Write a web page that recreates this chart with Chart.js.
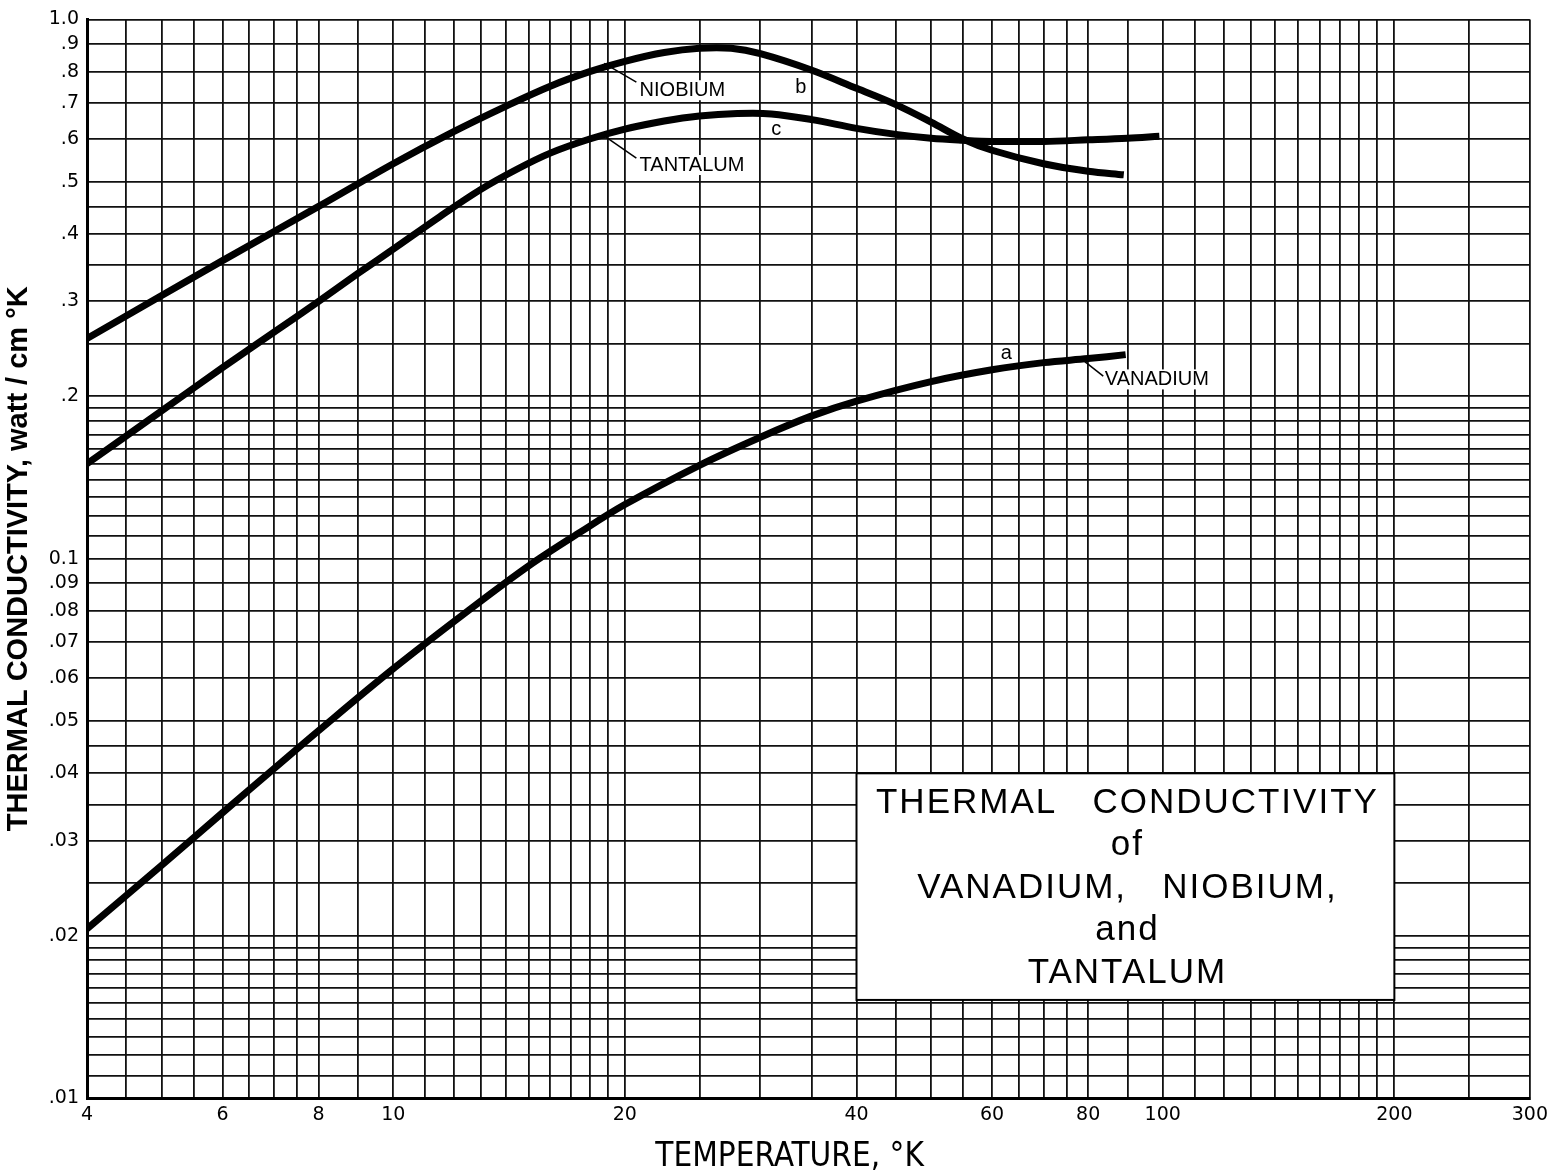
<!DOCTYPE html>
<html>
<head>
<meta charset="utf-8">
<script src="https://cdn.jsdelivr.net/npm/chart.js@4.4.1/dist/chart.umd.min.js"></script>
<style>
  html, body { margin: 0; padding: 0; background: #fff; }
  canvas { display: block; }
</style>
</head>
<body>
<canvas id="chart" width="1554" height="1174"></canvas>
<script>
// temperatures (°K) and conductivities (watt / cm °K)
const vanadiumT = [4, 5, 6, 7, 8, 10, 12.5, 15, 17.5, 20, 25, 30, 35, 40, 50, 60, 70, 80, 89.5];
const vanadiumK = [0.0206, 0.0270, 0.0338, 0.0408, 0.0480, 0.0625, 0.080, 0.097, 0.112, 0.126, 0.149, 0.168, 0.184, 0.196, 0.213, 0.224, 0.231, 0.235, 0.239];

const niobiumT = [4, 6, 8, 10, 12, 14, 16, 18, 20, 22.5, 25, 27.5, 30, 35, 40, 45, 50, 55, 60, 70, 80, 89];
const niobiumK = [0.256, 0.357, 0.450, 0.540, 0.620, 0.690, 0.752, 0.800, 0.836, 0.868, 0.884, 0.884, 0.864, 0.805, 0.745, 0.695, 0.645, 0.600, 0.572, 0.540, 0.523, 0.515];

const tantalumT = [4, 5, 6, 7, 8, 9, 10, 11.5, 13, 14.5, 16, 18, 20, 22.5, 25, 28, 31, 35, 40, 45, 50, 55, 60, 70, 80, 90, 99];
const tantalumK = [0.150, 0.188, 0.226, 0.263, 0.300, 0.338, 0.375, 0.431, 0.484, 0.528, 0.565, 0.600, 0.626, 0.648, 0.662, 0.669, 0.668, 0.652, 0.628, 0.612, 0.602, 0.597, 0.594, 0.594, 0.598, 0.602, 0.607];

// graph paper rulings
const xGrid = [4, 4.5, 5, 5.5, 6, 6.5, 7, 7.5, 8, 9, 10, 11, 12, 13, 14, 15, 16, 17, 18, 19, 20,
  25, 30, 35, 40, 45, 50, 55, 60, 65, 70, 75, 80, 90, 100,
  110, 120, 130, 140, 150, 160, 170, 180, 190, 200, 250, 300];
const yGrid = [0.01, 0.011, 0.012, 0.013, 0.014, 0.015, 0.016, 0.017, 0.018, 0.019, 0.02,
  0.025, 0.03, 0.035, 0.04, 0.045, 0.05, 0.06, 0.07, 0.08, 0.09,
  0.1, 0.11, 0.12, 0.13, 0.14, 0.15, 0.16, 0.17, 0.18, 0.19, 0.2,
  0.25, 0.3, 0.35, 0.4, 0.45, 0.5, 0.6, 0.7, 0.8, 0.9, 1.0];

const xTickValues = [4, 6, 8, 10, 20, 40, 60, 80, 100, 200, 300];
const xTickText = ['4', '6', '8', '10', '20', '40', '60', '80', '100', '200', '300'];
const yTickValues = [1.0, 0.9, 0.8, 0.7, 0.6, 0.5, 0.4, 0.3, 0.2, 0.1, 0.09, 0.08, 0.07, 0.06, 0.05, 0.04, 0.03, 0.02, 0.01];
const yTickText = ['1.0', '.9', '.8', '.7', '.6', '.5', '.4', '.3', '.2', '0.1', '.09', '.08', '.07', '.06', '.05', '.04', '.03', '.02', '.01'];

const boxLines = ['THERMAL   CONDUCTIVITY', 'of', 'VANADIUM,   NIOBIUM,', 'and', 'TANTALUM'];

function pts(xs, ys) {
  return xs.map((x, i) => ({x: x, y: ys[i]}));
}

function lookup(values, texts, v) {
  const i = values.findIndex(t => Math.abs(t - v) / t < 1e-6);
  return i < 0 ? '' : texts[i];
}

// curve labels with leaders, anchored in data units
const curveLabels = [
  {text: 'NIOBIUM', at: [20.9, 0.739], from: [18.8, 0.829], to: [20.7, 0.765]},
  {text: 'TANTALUM', at: [20.9, 0.537], from: [18.8, 0.608], to: [20.7, 0.553]},
  {text: 'VANADIUM', at: [84.1, 0.215], from: [79.2, 0.232], to: [83.7, 0.218]},
  {text: 'b', at: [33.3, 0.749]},
  {text: 'c', at: [31.0, 0.624]},
  {text: 'a', at: [61.6, 0.240]}
];

const annotations = {
  id: 'annotations',
  afterDatasetsDraw(chart) {
    const {ctx, scales: {x, y}} = chart;
    ctx.save();
    ctx.font = '20px "Liberation Sans", Arial, sans-serif';
    ctx.textBaseline = 'middle';
    ctx.textAlign = 'left';
    curveLabels.forEach(l => {
      const px = x.getPixelForValue(l.at[0]);
      const py = y.getPixelForValue(l.at[1]);
      const w = ctx.measureText(l.text).width;
      if (l.from) {
        ctx.fillStyle = '#fff';
        ctx.fillRect(px - 1, py - 10, w + 3, 20);
        ctx.strokeStyle = '#000';
        ctx.lineWidth = 1.5;
        ctx.beginPath();
        ctx.moveTo(x.getPixelForValue(l.from[0]), y.getPixelForValue(l.from[1]));
        ctx.lineTo(x.getPixelForValue(l.to[0]), y.getPixelForValue(l.to[1]));
        ctx.stroke();
      }
      ctx.fillStyle = '#000';
      ctx.fillText(l.text, px, py);
    });

    // title panel pasted on the paper
    const left = x.getPixelForValue(40);
    const right = x.getPixelForValue(200);
    const top = y.getPixelForValue(0.04);
    const bottom = y.getPixelForValue(0.0152);
    ctx.fillStyle = '#fff';
    ctx.fillRect(left, top, right - left, bottom - top);
    ctx.strokeStyle = '#000';
    ctx.lineWidth = 2;
    ctx.strokeRect(left, top, right - left, bottom - top);
    ctx.fillStyle = '#000';
    ctx.textAlign = 'center';
    ctx.font = '35px "Liberation Sans", Arial, sans-serif';
    ctx.letterSpacing = '2px';
    const cx = (left + right) / 2 + 2;
    boxLines.forEach((t, i) => {
      ctx.fillText(t, cx, top + 30 + i * 42.5);
    });
    ctx.restore();
  }
};

new Chart(document.getElementById('chart'), {
  type: 'line',
  data: {
    datasets: [
      {label: 'a  Vanadium', data: pts(vanadiumT, vanadiumK)},
      {label: 'b  Niobium', data: pts(niobiumT, niobiumK)},
      {label: 'c  Tantalum', data: pts(tantalumT, tantalumK)}
    ]
  },
  options: {
    responsive: false,
    animation: false,
    layout: {padding: {top: 16, right: 24, left: 0, bottom: 0}},
    elements: {
      line: {borderColor: '#000', borderWidth: 7, tension: 0.35, borderCapStyle: 'butt'},
      point: {radius: 0}
    },
    plugins: {
      legend: {display: false},
      tooltip: {enabled: false}
    },
    scales: {
      x: {
        type: 'logarithmic',
        min: 4,
        max: 300,
        afterBuildTicks: s => { s.ticks = xGrid.map(v => ({value: v})); },
        afterFit: s => { s.height = 76; },
        grid: {color: '#111', lineWidth: 1.8, drawTicks: false, tickLength: 0},
        border: {color: '#000', width: 3},
        ticks: {
          autoSkip: false,
          maxRotation: 0,
          padding: 6,
          color: '#000',
          font: {family: '"DejaVu Sans", sans-serif', size: 19},
          callback: v => lookup(xTickValues, xTickText, v)
        },
        title: {
          display: true,
          text: 'TEMPERATURE, °K    ',
          color: '#000',
          padding: {top: 0, bottom: 0},
          font: {family: '"DejaVu Sans Condensed", "DejaVu Sans", sans-serif', size: 33, lineHeight: 1.0}
        }
      },
      y: {
        type: 'logarithmic',
        min: 0.01,
        max: 1.0,
        afterBuildTicks: s => { s.ticks = yGrid.map(v => ({value: v})); },
        afterFit: s => { s.width = 87; },
        grid: {color: '#111', lineWidth: 1.8, drawTicks: false, tickLength: 0},
        border: {color: '#000', width: 3},
        ticks: {
          autoSkip: false,
          padding: 8,
          color: '#000',
          font: {family: '"DejaVu Sans", sans-serif', size: 19},
          callback: v => lookup(yTickValues, yTickText, v)
        },
        title: {
          display: true,
          text: 'THERMAL CONDUCTIVITY, watt / cm °K',
          color: '#000',
          padding: {top: 2, bottom: 0},
          font: {family: '"Liberation Sans", Arial, sans-serif', size: 29, weight: 'bold'}
        }
      }
    }
  },
  plugins: [annotations]
});
</script>
</body>
</html>
